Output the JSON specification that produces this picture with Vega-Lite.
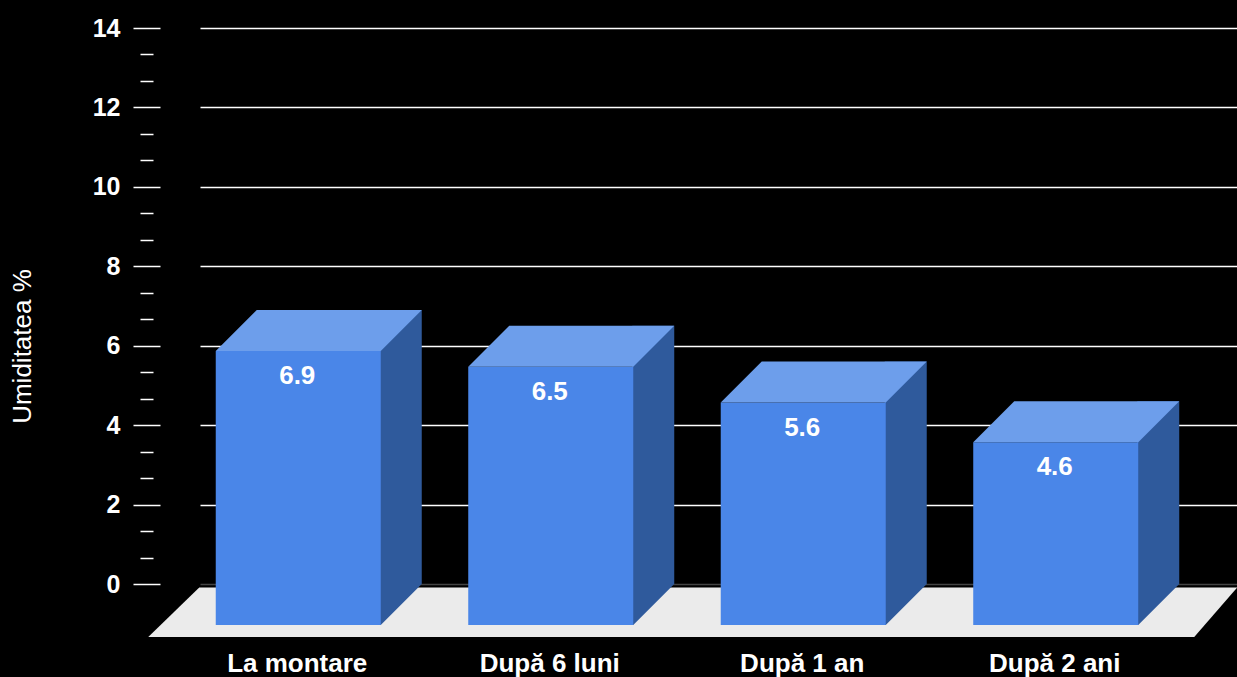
{
"$schema":"https://vega.github.io/schema/vega-lite/v6.json",
"width":1037,"height":556,
"autosize":{"type":"none"},
"padding":{"left":200,"top":28,"right":0,"bottom":93},
"background":"#000000",
"config":{"view":{"stroke":null},"font":"Liberation Sans"},
"data":{"values":[
{"perioada":"La montare","umiditate":6.9},
{"perioada":"După 6 luni","umiditate":6.5},
{"perioada":"După 1 an","umiditate":5.6},
{"perioada":"După 2 ani","umiditate":4.6}
]},
"encoding":{
"x":{"field":"perioada","type":"nominal","sort":null,"title":null,
"scale":{"type":"point","range":[0,1037],"padding":0.5535,"align":0.3515},
"axis":{"domain":false,"ticks":false,"labelAngle":0,"labelPadding":66,"labelOffset":-1.5,"labelColor":"#ffffff","labelFont":"Liberation Sans","labelFontWeight":"bold","labelFontSize":26,"grid":false}}
},
"layer":[
{"mark":{"type":"point","filled":true,"opacity":1,"size":4,"strokeWidth":0,"color":"#ebebeb","shape":"M-99,3.5L939,3.5L896,53L-150,53Z"},
"transform":[{"filter":"datum.perioada==='La montare'"}],
"encoding":{"y":{"datum":0,"type":"quantitative","scale":{"domain":[0,14],"nice":false},"axis":null}}},
{"mark":{"type":"bar","size":42,"xOffset":102.5,"color":"#2f5a9c"},
"encoding":{"y":{"field":"umiditate","type":"quantitative","stack":null,"scale":{"domain":[0,14],"nice":false},
"title":"Umiditatea %",
"axis":{"orient":"left","values":[0,2,4,6,8,10,12,14],"domain":false,"offset":40,"tickSize":27,"tickColor":"#ffffff","tickWidth":1.5,"labelPadding":13,"labelColor":"#ffffff","labelFontWeight":"bold","labelFontSize":25,"labelFont":"Liberation Sans","titleColor":"#ffffff","titleFontWeight":"normal","titleFontSize":26,"titleFont":"Liberation Sans","titlePadding":57,"titleY":318,"grid":true,"gridWidth":1.5,"gridColor":{"condition":{"test":"datum.value===0","value":"#444444"},"value":"#ffffff"}}},
"y2":{"datum":0}}},
{"mark":{"type":"point","filled":true,"opacity":1,"size":4,"strokeWidth":0,"color":"#2f5a9c","shape":"M81.5,41L82.5,41L123.5,0L81.5,0Z"},
"encoding":{"y":{"datum":0,"type":"quantitative","axis":null}}},
{"mark":{"type":"bar","size":165,"yOffset":41,"y2Offset":41,"color":"#4a86e8"},
"encoding":{"y":{"field":"umiditate","type":"quantitative","stack":null,
"axis":{"orient":"left","values":[0.667,1.333,2.667,3.333,4.667,5.333,6.667,7.333,8.667,9.333,10.667,11.333,12.667,13.333],"domain":false,"offset":47,"tickSize":13,"tickColor":"#ffffff","tickWidth":1.5,"labels":false,"title":null,"grid":false}},
"y2":{"datum":0}}},
{"mark":{"type":"point","filled":true,"opacity":1,"size":4,"strokeWidth":0,"color":"#6d9eeb","shape":"M-82.5,41L82.5,41L123.5,0L-41.5,0Z"},
"encoding":{"y":{"field":"umiditate","type":"quantitative","axis":null}}},
{"mark":{"type":"text","color":"#ffffff","font":"Liberation Sans","fontWeight":"bold","fontSize":26,"yOffset":66,"xOffset":-1,"align":"center","baseline":"middle"},
"encoding":{"y":{"field":"umiditate","type":"quantitative","axis":null},"text":{"field":"umiditate","type":"quantitative","format":".1f"}}}
],
"resolve":{"axis":{"y":"independent"}}
}
